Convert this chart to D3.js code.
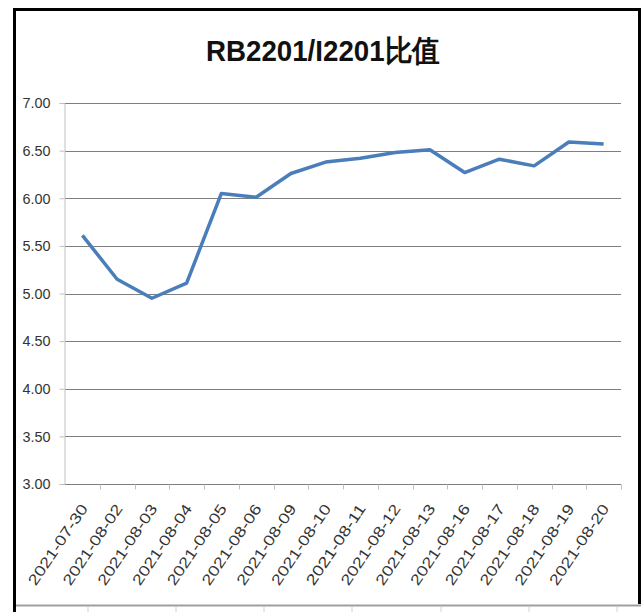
<!DOCTYPE html>
<html lang="zh">
<head>
  <meta charset="UTF-8" />
  <title>RB2201/I2201比值</title>
  <script src="https://cdn.jsdelivr.net/npm/d3@7/dist/d3.min.js"></script>
  <style>
    body { margin: 0; background: #fff; }
    svg { display: block; }
    .tick-label { font-family: "Liberation Sans", Arial, sans-serif; fill: #333; }
  </style>
</head>
<body>
  <div id="chart"></div>
  <script>
    // data
    var dates = ["2021-07-30", "2021-08-02", "2021-08-03", "2021-08-04", "2021-08-05",
                 "2021-08-06", "2021-08-09", "2021-08-10", "2021-08-11", "2021-08-12",
                 "2021-08-13", "2021-08-16", "2021-08-17", "2021-08-18", "2021-08-19",
                 "2021-08-20"];
    var ratio = [5.61, 5.15, 4.95, 5.11, 6.05, 6.01, 6.26, 6.38, 6.42, 6.48,
                 6.51, 6.27, 6.41, 6.34, 6.59, 6.57];
    var yTicks = [3.00, 3.50, 4.00, 4.50, 5.00, 5.50, 6.00, 6.50, 7.00];
    var title = "RB2201/I2201比值";

    var W = 641, H = 612;
    // plot area (don't call it "top": that's window.top)
    var plot = { left: 65, right: 621, top: 103, bottom: 484 };

    var svg = d3.select("#chart").append("svg")
      .attr("width", W)
      .attr("height", H);

    // spreadsheet cell lines under the chart
    var cellEdges = [88, 176, 264, 352, 441, 529, 617];
    svg.append("line")
      .attr("x1", 14).attr("x2", W)
      .attr("y1", 605.5).attr("y2", 605.5)
      .attr("stroke", "#a0a0a0").attr("stroke-width", 2);
    svg.selectAll(".cell")
      .data(cellEdges)
      .enter().append("line")
      .attr("x1", d => d).attr("x2", d => d)
      .attr("y1", 607).attr("y2", H)
      .attr("stroke", "#d0d0d0");

    // chart frame
    svg.append("path")
      .attr("d", "M14.5,612 L14.5,9.5 L639.5,9.5 L639.5,604")
      .attr("fill", "none")
      .attr("stroke", "#000")
      .attr("stroke-width", 3);

    svg.append("text")
      .attr("x", 323)
      .attr("y", 61)
      .attr("text-anchor", "middle")
      .attr("font-family", "'Liberation Sans', Arial, sans-serif")
      .attr("font-weight", "bold")
      .attr("font-size", 30)
      .attr("textLength", 234)
      .attr("lengthAdjust", "spacingAndGlyphs")
      .attr("fill", "#111")
      .text(title);

    var x = d3.scaleBand()
      .domain(dates)
      .range([plot.left, plot.right]);

    var y = d3.scaleLinear()
      .domain([3, 7])
      .range([plot.bottom, plot.top]);

    // horizontal gridlines
    svg.selectAll(".grid")
      .data(yTicks)
      .enter().append("line")
      .attr("x1", plot.left).attr("x2", plot.right)
      .attr("y1", d => Math.round(y(d)) + 0.5)
      .attr("y2", d => Math.round(y(d)) + 0.5)
      .attr("stroke", "#7f7f7f");

    // y axis
    var yAxis = svg.append("g")
      .attr("transform", "translate(" + (plot.left - 0.5) + ",0)")
      .call(d3.axisLeft(y).tickValues(yTicks).tickSize(5).tickPadding(9)
        .tickFormat(d3.format(".2f")));
    yAxis.select(".domain").attr("stroke", "#c0c0c0");
    yAxis.selectAll(".tick line").attr("stroke", "#c0c0c0");
    yAxis.selectAll(".tick text")
      .attr("class", "tick-label")
      .attr("font-size", 15)
      .attr("textLength", 28)
      .attr("lengthAdjust", "spacingAndGlyphs");

    // x axis: ticks between categories, rotated labels
    var xAxis = svg.append("g")
      .attr("transform", "translate(0," + (plot.bottom + 0.5) + ")");
    xAxis.selectAll(".xtick")
      .data(dates)
      .enter().append("line")
      .attr("x1", d => Math.round(x(d) + x.bandwidth()) + 0.5)
      .attr("x2", d => Math.round(x(d) + x.bandwidth()) + 0.5)
      .attr("y1", 0).attr("y2", 5)
      .attr("stroke", "#c0c0c0");
    xAxis.selectAll(".xlabel")
      .data(dates)
      .enter().append("text")
      .attr("class", "tick-label")
      .attr("font-size", 15)
      .attr("text-anchor", "end")
      .attr("transform", d => "translate(" + (x(d) + x.bandwidth() / 2 + 6) + ",24) rotate(-56)")
      .attr("textLength", 94)
      .attr("lengthAdjust", "spacingAndGlyphs")
      .text(d => d);

    // the ratio line
    var line = d3.line()
      .x((d, i) => x(dates[i]) + x.bandwidth() / 2)
      .y(d => y(d));

    svg.append("path")
      .datum(ratio)
      .attr("d", line)
      .attr("fill", "none")
      .attr("stroke", "#4a7ebb")
      .attr("stroke-width", 3.5)
      .attr("stroke-linejoin", "round");
  </script>
</body>
</html>
